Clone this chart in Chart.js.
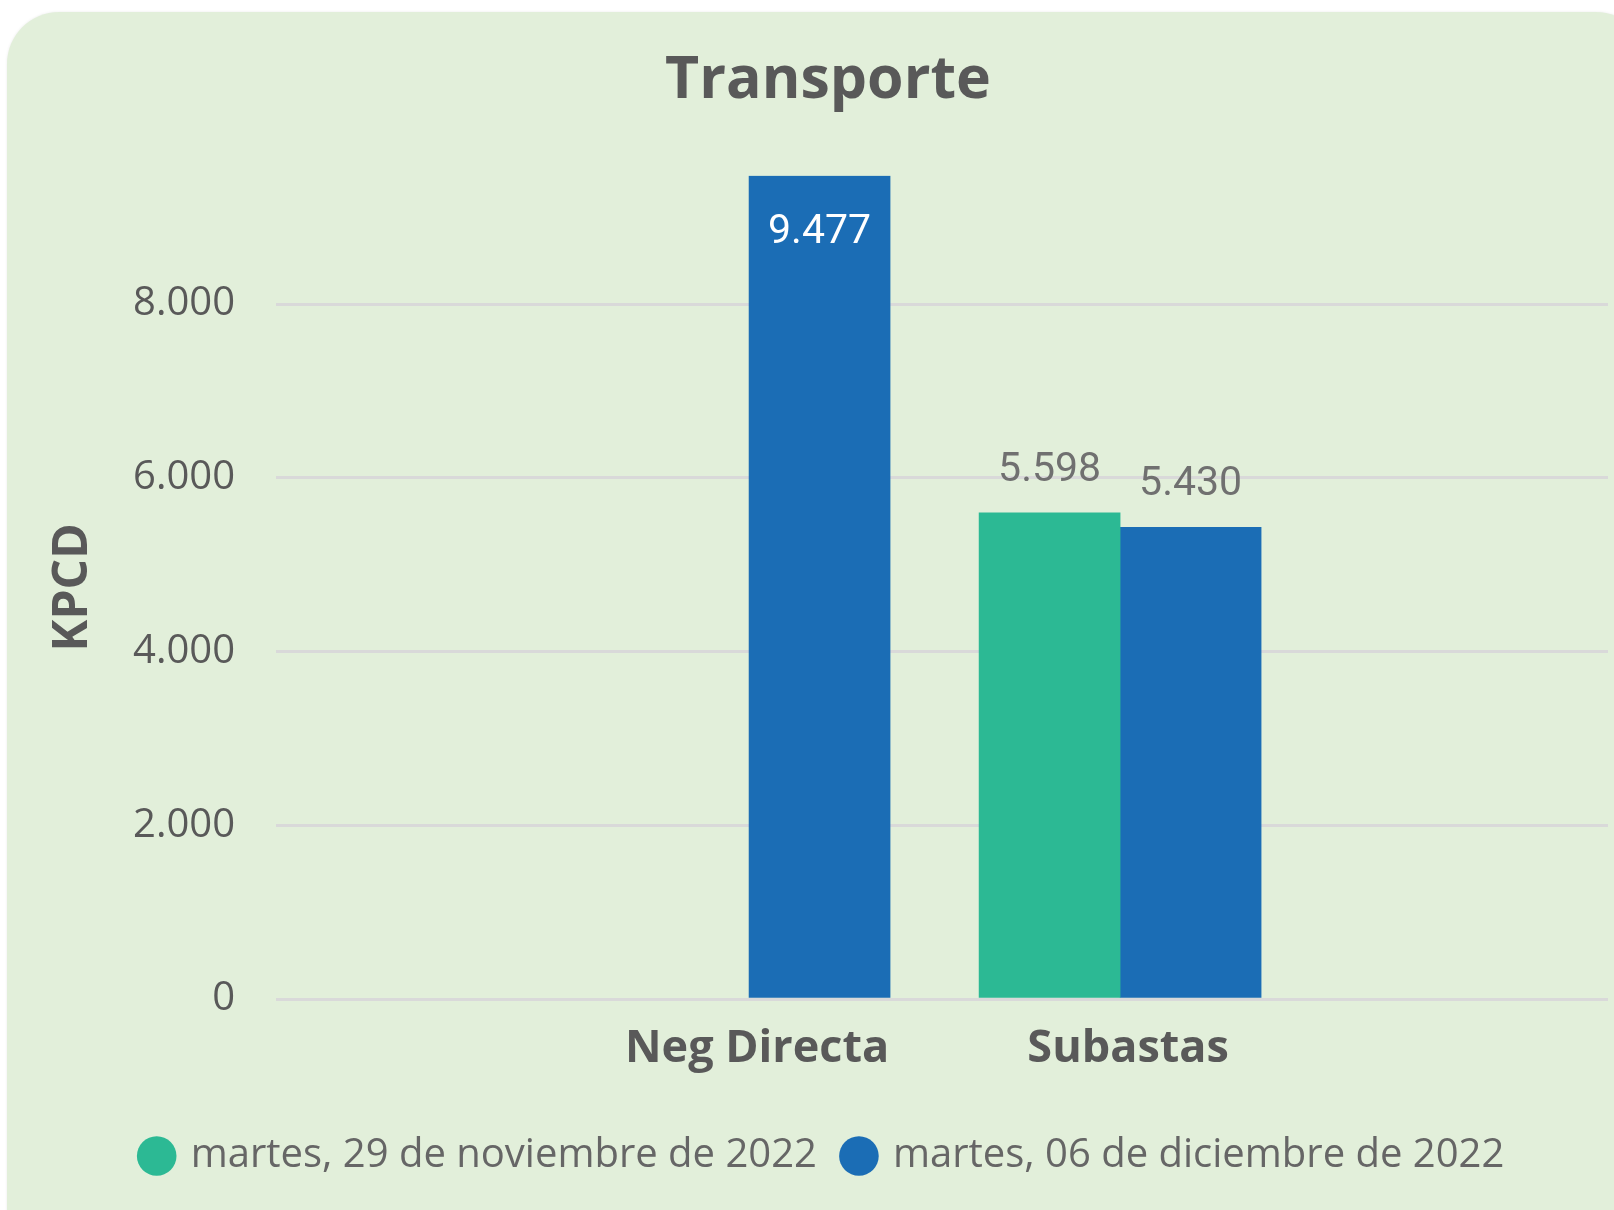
<!DOCTYPE html>
<html lang="es">
<head>
<meta charset="utf-8">
<title>Transporte</title>
<script src="https://cdn.jsdelivr.net/npm/chart.js@4.4.1/dist/chart.umd.min.js"></script>
<style>
  html, body { margin: 0; padding: 0; overflow: hidden; background: #fff; }
  .card {
    position: absolute; left: 7px; top: 12px;
    width: 1641px; height: 1260px;
    border-radius: 52px; background: #e2efda;
    box-shadow: 0 0 3px rgba(0, 0, 0, 0.08);
  }
  .wrap { position: relative; width: 1641px; height: 1198px; }
</style>
</head>
<body>
<div class="card"><div class="wrap"><canvas id="chart"></canvas></div></div>
<script>
// data
const categories = ['Neg Directa', 'Subastas'];
const seriesNames = ['martes, 29 de noviembre de 2022', 'martes, 06 de diciembre de 2022'];
const values29Nov = [null, 5598];
const values06Dic = [9477, 5430];
const yTicks = [0, 2000, 4000, 6000, 8000];

const colors = ['#2cb994', '#1b6db5'];
const grey = '#595959';

// categories sit on a linear x axis so their spacing matches the original
const categoryX = [1, 2];
const xMin = -0.275;
const xMax = 3.315;

const fmt = v => String(v).replace(/\B(?=(\d{3})+(?!\d))/g, '.');

const toPoints = vals => vals.map((v, i) => ({ x: categoryX[i], y: v }));
const yMax = Math.max(...values29Nov.filter(v => v != null), ...values06Dic);

// simple data labels: inside the bar when it touches the top, above otherwise
const valueLabels = {
  id: 'valueLabels',
  afterDatasetsDraw(chart) {
    const ctx = chart.ctx;
    ctx.save();
    ctx.font = '41px Roboto';
    ctx.textAlign = 'center';
    ctx.textBaseline = 'alphabetic';
    chart.data.datasets.forEach((ds, di) => {
      chart.getDatasetMeta(di).data.forEach((bar, i) => {
        const v = ds.data[i].y;
        if (v == null) return;
        if (bar.y - chart.chartArea.top < 60) {
          ctx.fillStyle = '#ffffff';
          ctx.fillText(fmt(v), bar.x, bar.y + 67);
        } else {
          ctx.fillStyle = '#707070';
          ctx.fillText(fmt(v), bar.x, bar.y - 32);
        }
      });
    });
    ctx.restore();
  }
};

// title and legend are centred on the whole card, not on the plot
const recentre = {
  id: 'recentre',
  afterLayout(chart) {
    chart.titleBlock.right += 41;
    chart.legend.left += 16;
    chart.legend.right += 16;
  }
};

new Chart(document.getElementById('chart'), {
  type: 'bar',
  data: {
    datasets: [
      { label: seriesNames[0], data: toPoints(values29Nov), backgroundColor: colors[0] },
      { label: seriesNames[1], data: toPoints(values06Dic), backgroundColor: colors[1] }
    ]
  },
  options: {
    responsive: true,
    maintainAspectRatio: false,
    animation: false,
    devicePixelRatio: 1,
    layout: { padding: { left: 0, right: 40, top: 0, bottom: 24 } },
    datasets: { bar: { barThickness: 141, borderWidth: 0 } },
    scales: {
      x: {
        type: 'linear',
        offset: false,
        min: xMin,
        max: xMax,
        afterBuildTicks: axis => { axis.ticks = categoryX.map(v => ({ value: v })); },
        afterFit: axis => { axis.height += 17; },
        grid: { display: false },
        border: { display: false },
        ticks: {
          callback: (v, i) => categories[i],
          autoSkip: false,
          maxRotation: 0,
          padding: 15,
          labelOffset: 8,
          color: grey,
          font: { family: 'Open Sans', size: 45, weight: 'bold' }
        }
      },
      y: {
        min: 0,
        max: yMax,
        afterBuildTicks: axis => { axis.ticks = yTicks.map(v => ({ value: v })); },
        afterFit: axis => { axis.width = 269; },
        grid: { color: '#d9d9d9', lineWidth: 3, drawTicks: false },
        border: { display: false },
        ticks: {
          callback: v => fmt(v),
          padding: 41,
          color: grey,
          font: { family: 'Open Sans', size: 40 }
        },
        title: {
          display: true,
          text: 'KPCD',
          color: grey,
          padding: { top: 38, bottom: 0 },
          font: { family: 'Open Sans', size: 48, weight: 'bold' }
        }
      }
    },
    plugins: {
      title: {
        display: true,
        text: 'Transporte',
        color: grey,
        padding: { top: 34, bottom: 59 },
        font: { family: 'Open Sans', size: 59, weight: 'bold' }
      },
      legend: {
        position: 'bottom',
        labels: {
          usePointStyle: true,
          pointStyle: 'circle',
          boxWidth: 28,
          boxHeight: 28,
          padding: 28,
          color: '#666666',
          font: { family: 'Open Sans', size: 40 }
        }
      },
      tooltip: { enabled: false }
    }
  },
  plugins: [valueLabels, recentre]
});
</script>
</body>
</html>
